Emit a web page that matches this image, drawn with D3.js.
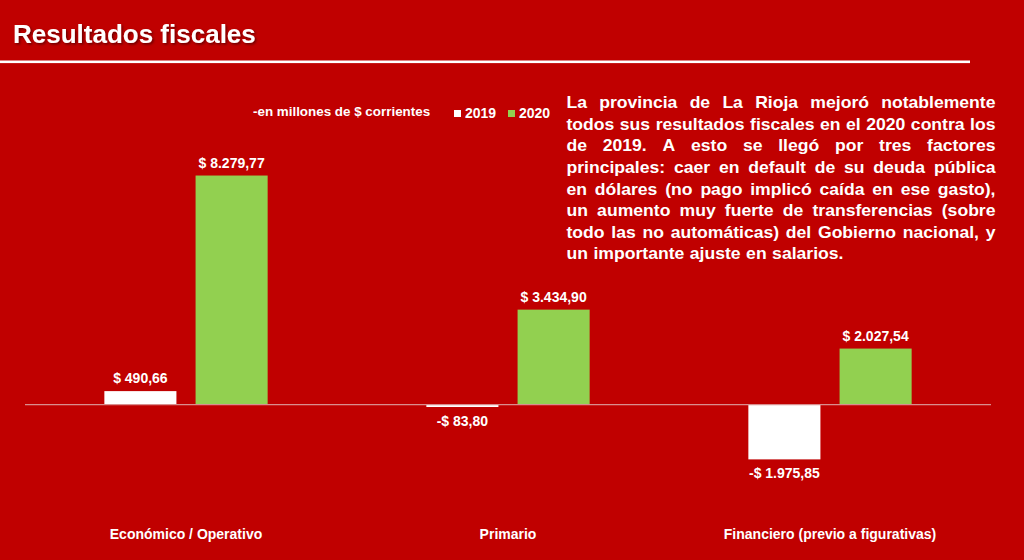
<!DOCTYPE html>
<html>
<head>
<meta charset="utf-8">
<script src="https://cdn.jsdelivr.net/npm/d3@7"></script>
<style>
  body { margin: 0; background: #c00000; }
  svg { display: block; }
  text { font-family: "Liberation Sans", Arial, sans-serif; font-weight: bold; fill: #fff; }
</style>
</head>
<body>
<div id="chart"></div>
<script>
// data
var categories = ['Económico / Operativo', 'Primario', 'Financiero (previo a figurativas)'];
var years = ['2019', '2020'];
var values2019 = [490.66, -83.80, -1975.85];
var values2020 = [8279.77, 3434.90, 2027.54];
var noteLines = [
	'La provincia de La Rioja mejoró notablemente',
	'todos sus resultados fiscales en el 2020 contra los',
	'de 2019. A esto se llegó por tres factores',
	'principales: caer en default de su deuda pública',
	'en dólares (no pago implicó caída en ese gasto),',
	'un aumento muy fuerte de transferencias (sobre',
	'todo las no automáticas) del Gobierno nacional, y',
	'un importante ajuste en salarios.'
];

var W = 1024, H = 560;
var colors = { '2019': '#ffffff', '2020': '#92d050' };

var locale = d3.formatLocale({ decimal: ',', thousands: '.', grouping: [3], currency: ['$ ', ''], minus: '-' });
var fmt = locale.format('$,.2f');

var svg = d3.select('#chart').append('svg')
	.attr('width', W)
	.attr('height', H);

var defs = svg.append('defs');
defs.append('filter').attr('id', 'shadow')
	.append('feDropShadow')
	.attr('dx', 1.5).attr('dy', 1.5).attr('stdDeviation', 1)
	.attr('flood-color', '#000').attr('flood-opacity', 0.45);

svg.append('rect').attr('width', W).attr('height', H).attr('fill', '#c00000');

// title + rule
svg.append('text')
	.attr('x', 13).attr('y', 43)
	.attr('font-size', 26)
	.attr('filter', 'url(#shadow)')
	.text('Resultados fiscales');

svg.append('rect')
	.attr('x', 0).attr('y', 60.5)
	.attr('width', 970).attr('height', 2.6)
	.attr('fill', '#fff');

// subtitle + legend
svg.append('text')
	.attr('x', 253).attr('y', 116)
	.attr('font-size', 13.4)
	.text('-en millones de $ corrientes');

var legend = svg.append('g').selectAll('g')
	.data(years)
	.join('g')
	.attr('transform', (d, i) => 'translate(' + (454 + i * 54) + ',110)');
legend.append('rect').attr('width', 7).attr('height', 7).attr('fill', d => colors[d]);
legend.append('text').attr('x', 11).attr('y', 7.5).attr('font-size', 14).text(d => d);

// scales
var data = categories.map((c, i) => ({ cat: c, vals: [
	{ year: '2019', v: values2019[i] },
	{ year: '2020', v: values2020[i] }
] }));

var x0 = d3.scaleBand().domain(categories).range([25, 991]);
var x1 = d3.scaleBand().domain(years).range([0, x0.bandwidth()]).paddingInner(0.21).paddingOuter(0.87);
var y = d3.scaleLinear().domain([-4000, 9000]).range([515.4, 155.6]);

var groups = svg.append('g').selectAll('g')
	.data(data)
	.join('g')
	.attr('transform', d => 'translate(' + x0(d.cat) + ',0)');

groups.selectAll('rect')
	.data(d => d.vals)
	.join('rect')
	.attr('x', d => x1(d.year))
	.attr('width', x1.bandwidth())
	.attr('y', d => Math.min(y(d.v), y(0)))
	.attr('height', d => Math.abs(y(d.v) - y(0)))
	.attr('fill', d => colors[d.year]);

groups.selectAll('text.val')
	.data(d => d.vals)
	.join('text')
	.attr('class', 'val')
	.attr('x', d => x1(d.year) + x1.bandwidth() / 2)
	.attr('y', d => d.v >= 0 ? y(d.v) - 8 : y(d.v) + 19)
	.attr('text-anchor', 'middle')
	.attr('font-size', 14)
	.text(d => fmt(d.v));

// zero line
svg.append('line')
	.attr('x1', x0.range()[0]).attr('x2', x0.range()[1])
	.attr('y1', y(0)).attr('y2', y(0))
	.attr('stroke', '#d98e8e').attr('stroke-width', 1.3);

// category labels
var xAxis = svg.append('g')
	.attr('transform', 'translate(0,539)')
	.call(d3.axisBottom(x0).tickSize(0).tickPadding(0));
xAxis.select('.domain').remove();
xAxis.selectAll('text')
	.attr('dy', 0)
	.attr('fill', '#fff')
	.style('font-size', '14px')
	.style('font-family', '"Liberation Sans", Arial, sans-serif')
	.style('font-weight', 'bold');

// justified note
var sx = 1.1, noteW = 429 / sx;
var note = svg.append('g').attr('transform', 'translate(566.5,0) scale(' + sx + ',1)');
noteLines.forEach(function(line, li) {
	var words = line.split(' ');
	var by = 108.3 + li * 21.6;
	var ws = words.map(function(w) {
		var t = note.append('text').attr('y', by).attr('font-size', 16).text(w);
		return { node: t, w: t.node().getComputedTextLength() };
	});
	var total = d3.sum(ws, d => d.w);
	var last = li === noteLines.length - 1;
	var gap = last ? 5 : (noteW - total) / (words.length - 1);
	var cx = 0;
	ws.forEach(function(d) {
		d.node.attr('x', cx);
		cx += d.w + gap;
	});
});
</script>
</body>
</html>
